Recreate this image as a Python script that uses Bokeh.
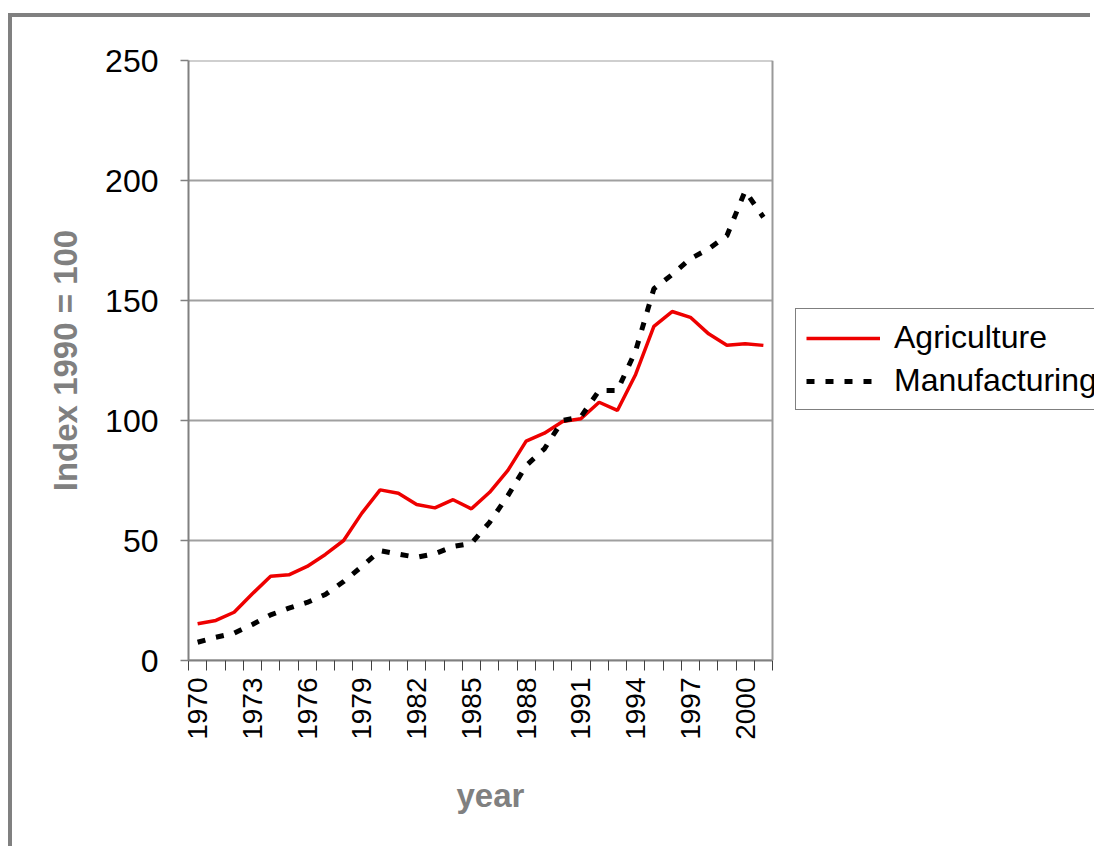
import math
from bokeh.plotting import figure
from bokeh.models import Range1d, FixedTicker, Legend, LegendItem, Span, Title
from bokeh.embed import file_html
from bokeh.resources import INLINE

years = list(range(1970, 2002))
agriculture = [15.3, 16.7, 20.1, 27.8, 35.1, 35.7, 39.2, 44.2, 50.0, 61.4,
               71.1, 69.7, 65.0, 63.6, 67.0, 63.2, 70.1, 79.2, 91.4, 94.7,
               99.6, 100.7, 107.6, 104.2, 119.2, 139.2, 145.4, 143.0, 136.1, 131.4,
               132.0, 131.3]
manufacturing = [7.6, 9.7, 11.4, 15.0, 19.0, 21.8, 24.2, 27.5, 32.9, 39.2,
                 45.8, 44.3, 43.0, 44.5, 47.5, 48.8, 57.6, 68.7, 81.2, 88.2,
                 100.0, 101.5, 112.5, 112.5, 129.0, 154.9, 160.8, 167.4, 171.5, 177.0,
                 195.6, 184.7]
label_years = [1970, 1973, 1976, 1979, 1982, 1985, 1988, 1991, 1994, 1997, 2000]
y_ticks = [0, 50, 100, 150, 200, 250]

FONT = "Liberation Sans"
GRAY = "#808080"

x_start = years[0] - 0.5
x_end = years[-1] + 0.5
n_cat = len(years)
canvas_w, canvas_h = 1082, 833
border_l, border_t, border_b = 176, 43, 190
plot_area_w = 584          # pixel width of the category area
frame_w = canvas_w - border_l
x_view_end = x_start + n_cat * frame_w / plot_area_w

p = figure(width=canvas_w, height=canvas_h,
           x_range=Range1d(x_start, x_view_end),
           y_range=Range1d(0, 250),
           output_backend="svg", toolbar_location=None,
           min_border_left=border_l, min_border_right=0,
           min_border_top=border_t, min_border_bottom=border_b)
p.styles = {"margin-left": "8px", "margin-top": "13px",
            "border-top": "4px solid #808080",
            "border-left": "4px solid #808080"}

p.background_fill_color = "white"
p.border_fill_color = "white"
p.outline_line_color = None

p.xgrid.visible = False
p.ygrid.visible = False
# horizontal gridlines limited to the category area
p.segment(x0=[x_start] * len(y_ticks), x1=[x_end] * len(y_ticks),
          y0=y_ticks, y1=y_ticks, line_color="#a0a0a0", line_width=2)
# right border of plot area
p.add_layout(Span(location=x_end, dimension="height",
                  line_color="#999999", line_width=2))

# y axis
p.yaxis.ticker = FixedTicker(ticks=y_ticks)
p.yaxis.axis_line_color = GRAY
p.yaxis.axis_line_width = 2
p.yaxis.major_tick_line_color = GRAY
p.yaxis.major_tick_line_width = 1.5
p.yaxis.major_tick_out = 8
p.yaxis.major_tick_in = 0
p.yaxis.minor_tick_out = 0
p.yaxis.minor_tick_in = 0
p.yaxis.major_label_text_font = FONT
p.yaxis.major_label_text_font_size = "32px"
p.yaxis.major_label_text_color = "black"
p.yaxis.major_label_standoff = 22
p.yaxis.axis_label = "Index 1990 = 100"
p.yaxis.axis_label_text_font = FONT
p.yaxis.axis_label_text_font_style = "bold"
p.yaxis.axis_label_text_font_size = "33px"
p.yaxis.axis_label_text_color = GRAY
p.yaxis.axis_label_standoff = 18

# x axis
boundaries = [y - 0.5 for y in years] + [x_end]
p.xaxis.ticker = FixedTicker(ticks=label_years, minor_ticks=boundaries)
p.xaxis.bounds = (x_start, x_end)
p.xaxis.axis_line_color = GRAY
p.xaxis.axis_line_width = 2
p.xaxis.major_tick_out = 0
p.xaxis.major_tick_in = 0
p.xaxis.minor_tick_out = 10
p.xaxis.minor_tick_in = 0
p.xaxis.minor_tick_line_color = "#404040"
p.xaxis.minor_tick_line_width = 1
p.xaxis.major_label_orientation = math.pi / 2
p.xaxis.major_label_text_font = FONT
p.xaxis.major_label_text_font_size = "28px"
p.xaxis.major_label_text_color = "black"
p.xaxis.major_label_standoff = 7

# x axis title, placed under the category area
p.add_layout(Title(text="year", align="left", offset=268, standoff=64,
                   text_font=FONT, text_font_style="bold",
                   text_font_size="33px", text_color=GRAY), "below")

r_agr = p.line(years, agriculture, line_color="#ee0000", line_width=3.5)
r_man = p.line(years, manufacturing, line_color="black", line_width=5,
               line_dash="8 11")

legend = Legend(items=[LegendItem(label="Agriculture", renderers=[r_agr]),
                       LegendItem(label="Manufacturing", renderers=[r_man])],
                location=(607, 250))
legend.border_line_color = "black"
legend.border_line_width = 1
legend.background_fill_color = "white"
legend.background_fill_alpha = 1
legend.label_text_font = FONT
legend.label_text_font_size = "32px"
legend.label_text_color = "black"
legend.glyph_width = 74
legend.glyph_height = 30
legend.label_height = 30
legend.label_standoff = 14
legend.padding = 10
legend.spacing = 6
legend.margin = 0
p.add_layout(legend, "center")

open("out.html", "w").write(file_html(p, INLINE))
